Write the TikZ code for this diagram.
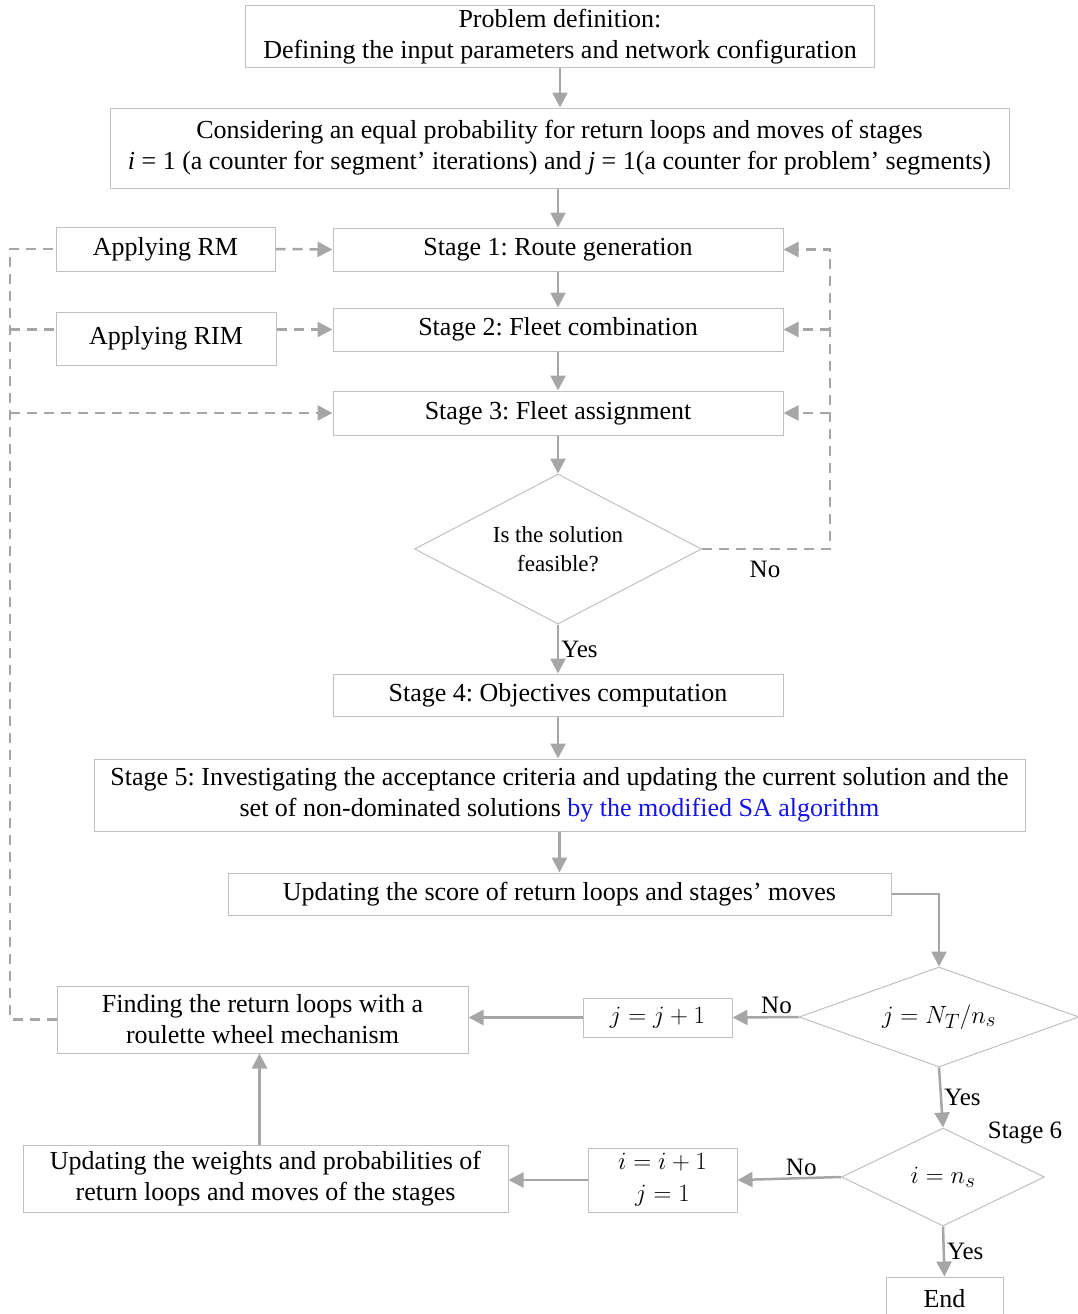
\documentclass[tikz,border=0pt]{standalone}
\usepackage{fontspec}
\setmainfont{Liberation Serif}
\usetikzlibrary{shapes.geometric,arrows.meta}
\definecolor{linegray}{RGB}{166,166,166}
\definecolor{boxgray}{RGB}{192,192,192}
\definecolor{sablue}{RGB}{20,20,240}
\newcommand{\flowbox}[4][]{\node[box,#1] at (#2) (#3) {#4}}
\newcommand{\decision}[4][]{\node[dec,#1] at (#2) (#3) {#4}}
\tikzset{
  box/.style={draw=boxgray,line width=1pt,align=center,inner sep=2pt,
    font=\fontsize{26}{31}\selectfont},
  dec/.style={diamond,draw=boxgray,line width=1pt,align=center,inner sep=0pt,
    font=\fontsize{26}{31}\selectfont},
  mth/.style={font=\fontsize{28}{32}\selectfont},
  lbl/.style={font=\fontsize{25}{30}\selectfont,inner sep=2pt},
  flow/.style={draw=linegray,line width=2.5pt,
    -{Triangle[length=15pt,width=15pt]}},
  dashline/.style={draw=linegray,line width=2.5pt,dash pattern=on 10pt off 7pt},
  back/.style={dashline,-{Triangle[length=15pt,width=15pt]}}
}
\frenchspacing
\begin{document}
\begin{tikzpicture}[x=1pt,y=-1pt]
  \useasboundingbox (0,0) rectangle (1078,1314);
  % main column
  \flowbox[minimum width=629,minimum height=62]{560,37}{def}
    {Problem definition:\\Defining the input parameters and network configuration};
  \flowbox[minimum width=899,minimum height=80]{559.5,148}{init}
    {Considering an equal probability for return loops and moves of stages\\
     \textit{i} = 1 (a counter for segment’ iterations) and \textit{j} = 1(a counter for problem’ segments)};
  \flowbox[minimum width=450,minimum height=43]{558,249.5}{st1}{Stage 1: Route generation};
  \flowbox[minimum width=450,minimum height=43]{558,329.5}{st2}{Stage 2: Fleet combination};
  \flowbox[minimum width=450,minimum height=44]{558,413}{st3}{Stage 3: Fleet assignment};
  \decision[minimum width=287,minimum height=150,shape aspect=1.91,
    font=\fontsize{23}{29}\selectfont]{558,549}{feas}{Is the solution\\feasible?};
  \flowbox[minimum width=450,minimum height=42]{558,695}{st4}{Stage 4: Objectives computation};
  \flowbox[minimum width=931,minimum height=72]{559.5,795}{st5}
    {Stage 5: Investigating the acceptance criteria and updating the current solution and the\\
     set of non-dominated solutions \textcolor{sablue}{by the modified SA algorithm}};
  \flowbox[minimum width=663,minimum height=42]{559.5,894}{score}
    {Updating the score of return loops and stages’ moves};
  % moves
  \flowbox[minimum width=219,minimum height=44]{165.5,249}{rm}{Applying RM};
  \flowbox[minimum width=220,minimum height=53]{166,338.5}{rim}{Applying RIM};
  % segment and iteration checks
  \decision[minimum width=280,minimum height=100,shape aspect=2.8,mth]{939,1017}{jchk}{$j=N_T/n_s$};
  \flowbox[minimum width=149,minimum height=39,mth]{657.5,1017.5}{jinc}{$j=j+1$};
  \flowbox[minimum width=411,minimum height=67]{262.5,1019.5}{find}
    {Finding the return loops with a\\roulette wheel mechanism};
  \decision[minimum width=203,minimum height=98,shape aspect=2.07,mth]{943,1177}{ichk}{$i=n_s$};
  \flowbox[minimum width=149,minimum height=64,mth]{662.5,1180}{iinc}{$i=i+1$\\$j=1$};
  \flowbox[minimum width=485,minimum height=67]{265.5,1178.5}{upd}
    {Updating the weights and probabilities of\\return loops and moves of the stages};
  \flowbox[minimum width=117,minimum height=44]{944.5,1299}{fin}{End};
  \node[lbl] (s6) at (1025,1133) {Stage 6};

  \draw[flow] (def) -- (def.south |- init.north);
  \draw[flow] (init.south -| st1.north) -- (st1);
  \draw[flow] (st1) -- (st2);
  \draw[flow] (st2) -- (st3);
  \draw[flow] (st3) -- (feas);
  \draw[flow] (feas) -- (st4) node[lbl,midway,right] {Yes};
  \draw[flow] (st4) -- (st4.south |- st5.north);
  \draw[flow] (st5.south -| score.north) -- (score);
  \draw[flow] (score.east) -| (jchk.north);
  \draw[flow] (jchk.west) -- (jinc.east) node[lbl,midway,above,xshift=11pt] {No};
  \draw[flow] (jinc.west) -- (jinc.west -| find.east);
  \draw[flow] (jchk.south) -- (ichk.north) node[lbl,midway,right] {Yes};
  \draw[flow] (ichk.west) -- (iinc.east) node[lbl,midway,above,xshift=12pt] {No};
  \draw[flow] (iinc.west) -- (iinc.west -| upd.east);
  \draw[flow] (upd.north -| find.south) ++(-3,0) -- ([xshift=-3pt]find.south);
  \draw[flow] (ichk.south) -- (fin.north) node[lbl,midway,right] {Yes};

  % return loops
  \coordinate (rbus) at (830,0);
  \coordinate (lbus) at (10,0);
  \draw[back] (feas.east) -| (rbus |- st1.east) -- (st1.east);
  \draw[back] (rbus |- st2.east) -- (st2.east);
  \draw[back] (rbus |- st3.east) -- (st3.east);
  \node[lbl] (no1) at (765,569) {No};
  \draw[dashline] (find.west) -| (lbus |- rm.west) -- (rm.west);
  \draw[dashline] (lbus |- st2.west) -- (rim.west |- st2.west);
  \draw[back] (lbus |- st3.west) -- (st3.west);
  \draw[back] (rm.east) -- (st1.west);
  \draw[back] (rim.east |- st2.west) -- (st2.west);
\end{tikzpicture}
\end{document}
